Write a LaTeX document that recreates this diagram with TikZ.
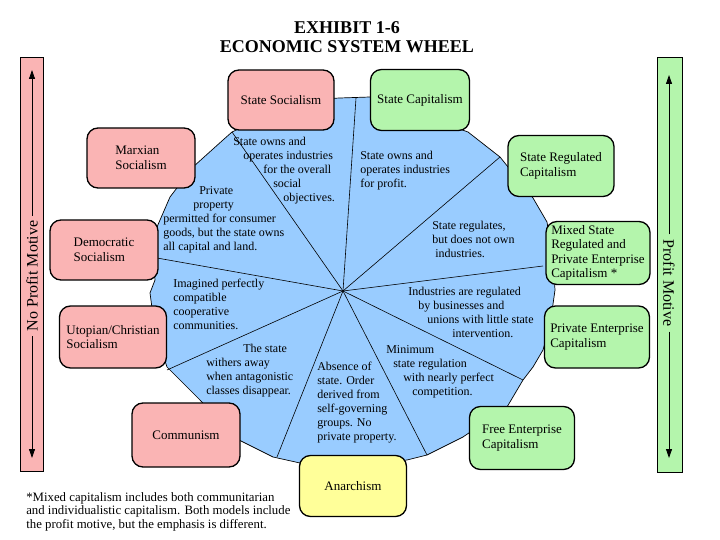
\documentclass[tikz,border=0pt]{standalone}
\usepackage{fontspec}
\setmainfont{Liberation Serif}
\usetikzlibrary{arrows.meta}
\definecolor{sockpink}{RGB}{250,180,180}
\definecolor{capgreen}{RGB}{180,245,172}
\definecolor{anyellow}{RGB}{255,255,153}
\definecolor{wheelblue}{RGB}{153,204,255}
\begin{document}
\begin{tikzpicture}[x=1pt,y=-1pt,line width=.6pt,
  sysbox/.style={draw,line width=1.3pt,rounded corners=11pt,align=left,inner sep=0pt,font=\fontsize{13}{14.5}\selectfont},
  pinkbox/.style={sysbox,fill=sockpink},
  greenbox/.style={sysbox,fill=capgreen},
  wheeltext/.style={anchor=north west,inner sep=0pt,align=left,font=\fontsize{12}{14}\selectfont},
  motive/.style={inner sep=5pt,font=\fontsize{16}{18}\selectfont},
  motivearrow/.style={-{Triangle[length=9pt,width=6pt]},line width=.8pt}]
\path[use as bounding box] (0,0) rectangle (720,540);
\node[font=\bfseries\fontsize{18}{19}\selectfont,align=center] (title) at (347,37) {EXHIBIT 1-6\\ECONOMIC SYSTEM WHEEL};
% the wheel
\filldraw[fill=wheelblue,line width=.7pt] (232,132) -- (300,100) -- (340,98) -- (370,97) -- (468,132) -- (500,157) -- (533,198) -- (547,222) -- (553,260) -- (555,290) -- (550,325) -- (543,350) -- (533,367) -- (523,380) -- (507,407) -- (463,437) -- (427,455) -- (407,460) -- (353,466) -- (300,463) -- (273,457) -- (235,438) -- (200,400) -- (167,367) -- (155,330) -- (150,293) -- (155,280) -- (153,255) -- (157,227) -- (170,197) -- (193,167) -- (223,140) -- cycle;
\coordinate (hub) at (343,291);
\foreach \n/\p in {a/{356,98},b/{232,132},c/{157,258},d/{167,370},e/{277,457},f/{427,455},g/{523,380},h/{543,266},i/{500,157}}{
  \coordinate (rim\n) at (\p);
  \draw (hub) -- (rim\n);
}
\node[wheeltext] (ownsocial) at (233,137) {State owns and\\\hspace*{10pt}operates industries\\\hspace*{30pt}for the overall\\\hspace*{40pt}social\\\hspace*{50pt}objectives.};
\node[wheeltext] (ownprofit) at (360,151) {State owns and\\operates industries\\for profit.};
\node[wheeltext] (consumer) at (163,186) {\hspace*{36pt}Private\\\hspace*{30pt}property\\permitted for consumer\\goods, but the state owns\\all capital and land.};
\node[wheeltext] (regulates) at (432,221) {State regulates,\\but does not own\\\hspace*{3pt}industries.};
\node[wheeltext] (imagined) at (173,279) {Imagined perfectly\\compatible\\cooperative\\communities.};
\node[wheeltext] (unions) at (408,287) {Industries are regulated\\\hspace*{10pt}by businesses and\\\hspace*{19pt}unions with little state\\\hspace*{44pt}intervention.};
\node[wheeltext] (withers) at (206,344) {\hspace*{37pt}The state\\withers away\\when antagonistic\\classes disappear.};
\node[wheeltext] (absence) at (317,362) {Absence of\\state. Order\\derived from\\self-governing\\groups. No\\private property.};
\node[wheeltext] (minimum) at (386,345) {Minimum\\\hspace*{7pt}state regulation\\\hspace*{17pt}with nearly perfect\\\hspace*{26pt}competition.};
% the systems
\node[pinkbox,minimum width=106,minimum height=60] (statesoc) at (281,100) {State Socialism};
\node[greenbox,minimum width=99,minimum height=61] (statecap) at (420,100) {State Capitalism};
\node[pinkbox,minimum width=108,minimum height=60] (marxian) at (141,158) {Marxian\\Socialism};
\node[greenbox,minimum width=106,minimum height=61] (stateregcap) at (561,166) {State Regulated\\Capitalism};
\node[pinkbox,minimum width=108,minimum height=60] (democratic) at (104,250) {Democratic\\Socialism};
\node[greenbox,minimum width=104,minimum height=63] (mixed) at (598,253) {Mixed State\\Regulated and\\Private Enterprise\\Capitalism *};
\node[pinkbox,minimum width=107,minimum height=62] (utopian) at (113,337) {Utopian/Christian\\Socialism};
\node[greenbox,minimum width=105,minimum height=62] (privent) at (597,337) {Private Enterprise\\Capitalism};
\node[pinkbox,minimum width=108,minimum height=64] (communism) at (186,435) {Communism};
\node[greenbox,minimum width=105,minimum height=63] (freeent) at (522,438) {Free Enterprise\\Capitalism};
\node[sysbox,fill=anyellow,minimum width=107,minimum height=61] (anarchism) at (353,486) {Anarchism};
% the two bars
\draw[fill=sockpink,line width=1pt] (20,58) rectangle (43,471);
\node[motive,rotate=90] (noprofit) at (32,276) {No Profit Motive};
\coordinate (nptop) at (32,70);
\coordinate (npbot) at (32,458);
\draw[motivearrow] (noprofit.east) -- (nptop);
\draw[motivearrow] (noprofit.west) -- (npbot);
\draw[fill=capgreen,line width=1pt] (657,58) rectangle (682,472);
\node[motive,rotate=-90] (profit) at (669,283) {Profit Motive};
\coordinate (ptop) at (669,75);
\coordinate (pbot) at (669,458);
\draw[motivearrow] (profit.west) -- (ptop);
\draw[motivearrow] (profit.east) -- (pbot);
\node[anchor=north west,inner sep=0pt,align=left,font=\fontsize{12.8}{13.5}\selectfont] (note) at (26,492) {*Mixed capitalism includes both communitarian\\and individualistic capitalism. Both models include\\the profit motive, but the emphasis is different.};
\end{tikzpicture}
\end{document}
